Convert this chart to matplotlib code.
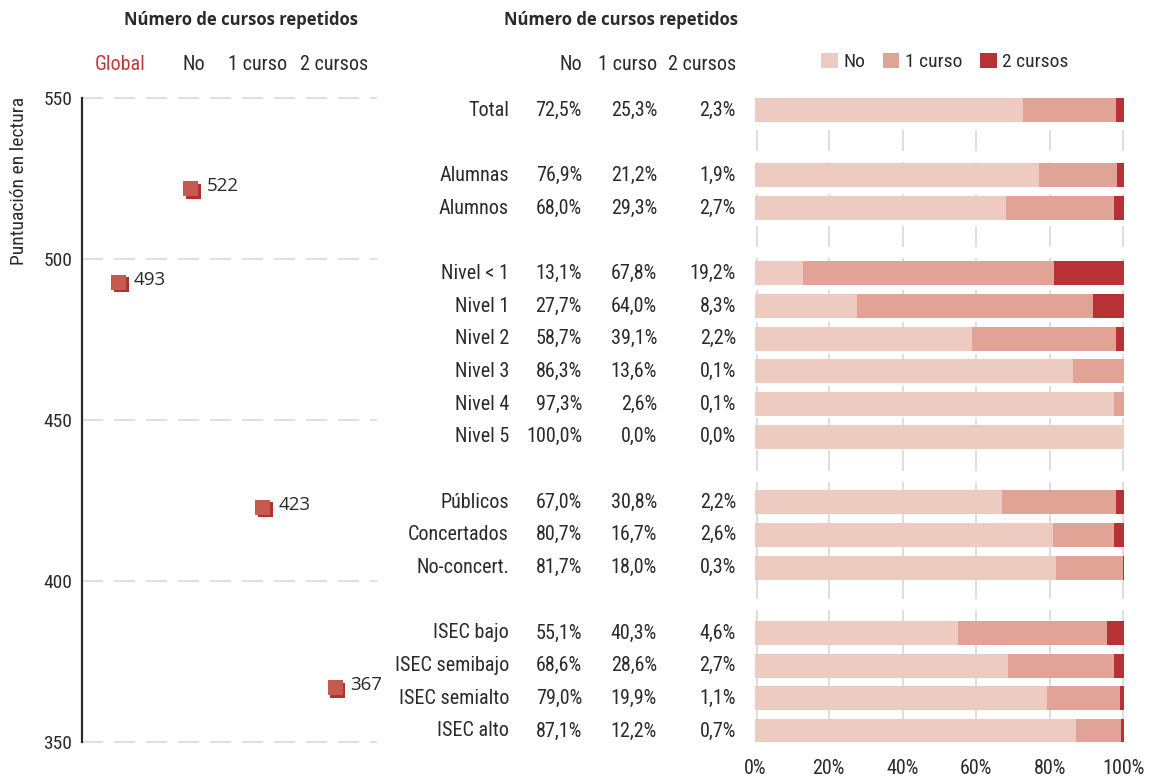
import matplotlib
matplotlib.use("Agg")
import matplotlib.pyplot as plt
from matplotlib import font_manager
from matplotlib.patches import Patch
import matplotlib.transforms as mtransforms

# ---------------- data ----------------
score_cats = ["Global", "No", "1 curso", "2 cursos"]
score_vals = [493, 522, 423, 367]
score_ticks = [350, 400, 450, 500, 550]

series_names = ["No", "1 curso", "2 cursos"]
groups = [
    ["Total"],
    ["Alumnas", "Alumnos"],
    ["Nivel < 1", "Nivel 1", "Nivel 2", "Nivel 3", "Nivel 4", "Nivel 5"],
    ["Públicos", "Concertados", "No-concert."],
    ["ISEC bajo", "ISEC semibajo", "ISEC semialto", "ISEC alto"],
]
pct_no = [72.5, 76.9, 68.0, 13.1, 27.7, 58.7, 86.3, 97.3, 100.0, 67.0, 80.7, 81.7, 55.1, 68.6, 79.0, 87.1]
pct_one = [25.3, 21.2, 29.3, 67.8, 64.0, 39.1, 13.6, 2.6, 0.0, 30.8, 16.7, 18.0, 40.3, 28.6, 19.9, 12.2]
pct_two = [2.3, 1.9, 2.7, 19.2, 8.3, 2.2, 0.1, 0.1, 0.0, 2.2, 2.6, 0.3, 4.6, 2.7, 1.1, 0.7]
pct_ticks = [0, 20, 40, 60, 80, 100]

# ---------------- style ----------------
entries = font_manager.fontManager.ttflist
avail = {f.name for f in entries}
cond = None
stretch = "normal"
FS, FS_T = 14, 13
for cand in ["Liberation Sans Narrow", "DejaVu Sans Condensed", "Roboto Condensed"]:
    if cand in avail:
        cond = cand
        FS, FS_T = 14.5, 14
        break
if cond is None:
    for fam in ["Noto Sans", "Open Sans", "Roboto", "DejaVu Sans"]:
        ok = [f for f in entries if f.name == fam and "condensed" in str(f.stretch).lower()
              and not str(f.stretch).lower().startswith("ultra")
              and not str(f.stretch).lower().startswith("extra")]
        if ok:
            cond = fam
            stretch = ok[0].stretch
            FS, FS_T = 14.5, 14
            break
if cond is None:
    cond = "Roboto" if "Roboto" in avail else "DejaVu Sans"
plain = "Open Sans" if "Open Sans" in avail else "DejaVu Sans"

plt.rcParams["font.family"] = [cond, "DejaVu Sans"]
plt.rcParams["font.stretch"] = stretch
plt.rcParams["lines.scale_dashes"] = False

C_NO = "#EDCBC1"
C_ONE = "#E0A396"
C_TWO = "#B83235"
C_MARK = "#C75A50"
C_SHADOW = "#B52F2F"
C_GRID = "#D6D6D6"
C_TEXT = "#2A2A2A"
C_RED = "#C0393B"

W, H = 1152, 777
DPI = 100
fig = plt.figure(figsize=(W / DPI, H / DPI), dpi=DPI)
px2pt = 72.0 / DPI
dash = (0, (21 * px2pt, 11 * px2pt))


def fx(px):
    return px / W


def fy(py):
    return 1 - py / H


# ---------------- left panel ----------------
axL = fig.add_axes([fx(82), fy(742), 296 / W, 644 / H])
axL.set_xlim(-0.5, 3.6)
axL.set_ylim(350, 550)
for s in ["top", "right", "bottom"]:
    axL.spines[s].set_visible(False)
axL.spines["left"].set_linewidth(2.2 * px2pt)
axL.spines["left"].set_color(C_TEXT)
axL.set_xticks([])
axL.set_yticks(score_ticks)
axL.set_yticklabels([str(t) for t in score_ticks], fontsize=FS_T, color=C_TEXT)
axL.tick_params(axis="y", length=0, pad=7)
for t in score_ticks:
    axL.axhline(t, xmin=0, xmax=(377 - 82) / 296, color=C_GRID, lw=1.5 * px2pt,
                linestyle=dash, zorder=0, clip_on=False)

xs = list(range(len(score_cats)))
shadow_tr = mtransforms.offset_copy(axL.transData, fig=fig, x=2.5, y=-2.5, units="dots")
axL.plot(xs, score_vals, linestyle="none", marker="s", markersize=15 * px2pt,
         color=C_SHADOW, markeredgewidth=0, transform=shadow_tr, zorder=3, clip_on=False)
axL.plot(xs, score_vals, linestyle="none", marker="s", markersize=15 * px2pt,
         color=C_MARK, markeredgewidth=0, zorder=4, clip_on=False)
label_tr = mtransforms.offset_copy(axL.transData, fig=fig, x=16, y=2, units="dots")
for x, v in zip(xs, score_vals):
    axL.text(x, v, str(v), transform=label_tr, ha="left", va="center",
             fontsize=13.5, family=plain, stretch="normal", color=C_TEXT, clip_on=False)

# column headers of the score panel (centres)
hdr_px = [120, 194, 258, 334]
for xp, c in zip(hdr_px, score_cats):
    fig.text(fx(xp), fy(65), c, ha="center", va="center", fontsize=FS,
             color=C_RED if c == "Global" else C_TEXT)

fig.text(fx(241), fy(20), "Número de cursos repetidos", ha="center", va="center",
         fontsize=12, fontweight="bold", family=plain, stretch="normal", color=C_TEXT)
fig.text(fx(19), fy(97), "Puntuación en lectura", rotation=90, ha="center", va="top",
         fontsize=FS_T, color=C_TEXT)

# ---------------- right panel ----------------
labels = [c for g in groups for c in g]
positions = []
slot = 0
for gi, g in enumerate(groups):
    for _ in g:
        positions.append(slot)
        slot += 1
    slot += 1

row_px = (731 - 110) / 19.0
ytop = (98 - 110) / row_px
ybot = (742 - 110) / row_px

axB = fig.add_axes([fx(755), fy(742), 369 / W, 644 / H])
axB.set_xlim(0, 100)
axB.set_ylim(ybot, ytop)
for s in axB.spines.values():
    s.set_visible(False)
axB.set_yticks([])
axB.set_xticks(pct_ticks)
axB.set_xticklabels([f"{t}%" for t in pct_ticks], fontsize=FS, color=C_TEXT)
axB.tick_params(axis="x", length=0, pad=12)

for t in pct_ticks:
    xg = min(max(t, 0.45), 99.6)
    axB.plot([xg, xg], [ytop, ybot], color=C_GRID, lw=1.6 * px2pt, linestyle=dash,
             zorder=0, solid_capstyle="butt", dash_capstyle="butt")

bh = 24 / row_px
left_one = [a for a in pct_no]
left_two = [a + b for a, b in zip(pct_no, pct_one)]
axB.barh(positions, pct_no, height=bh, color=C_NO, zorder=2, label=series_names[0])
axB.barh(positions, pct_one, left=left_one, height=bh, color=C_ONE, zorder=2, label=series_names[1])
axB.barh(positions, pct_two, left=left_two, height=bh, color=C_TWO, zorder=2, label=series_names[2])


def fmt(v):
    return f"{v:.1f}%".replace(".", ",")


row_tr = mtransforms.blended_transform_factory(fig.transFigure, axB.transData)
for p, lab, a, b, c in zip(positions, labels, pct_no, pct_one, pct_two):
    axB.text(fx(509), p, lab, transform=row_tr, ha="right", va="center", fontsize=FS, color=C_TEXT)
    axB.text(fx(582), p, fmt(a), transform=row_tr, ha="right", va="center", fontsize=FS, color=C_TEXT)
    axB.text(fx(657), p, fmt(b), transform=row_tr, ha="right", va="center", fontsize=FS, color=C_TEXT)
    axB.text(fx(736), p, fmt(c), transform=row_tr, ha="right", va="center", fontsize=FS, color=C_TEXT)

for xp, name in zip([582, 657, 736], series_names):
    fig.text(fx(xp), fy(65), name, ha="right", va="center", fontsize=FS, color=C_TEXT)
fig.text(fx(621), fy(20), "Número de cursos repetidos", ha="center", va="center",
         fontsize=12, fontweight="bold", family=plain, stretch="normal", color=C_TEXT)

handles = [Patch(facecolor=col, edgecolor="none") for col in [C_NO, C_ONE, C_TWO]]
fig.legend(handles, series_names, loc="center left", bbox_to_anchor=(fx(821), fy(62)),
           ncol=3, frameon=False, fontsize=14, handlelength=0.85, handleheight=0.85,
           handletextpad=0.3, columnspacing=0.9, borderpad=0, borderaxespad=0,
           labelcolor=C_TEXT)

fig.savefig("out.png", dpi=DPI, facecolor="white")
